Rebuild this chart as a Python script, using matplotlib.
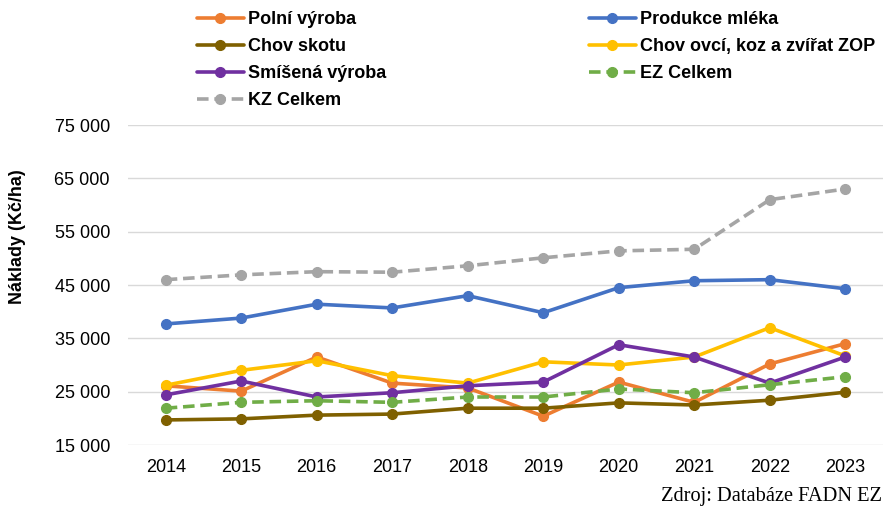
import numpy as np
import matplotlib
matplotlib.use('Agg')
import matplotlib.pyplot as plt

years = [2014, 2015, 2016, 2017, 2018, 2019, 2020, 2021, 2022, 2023]

polni    = [26100, 25100, 31500, 26600, 25700, 20400, 26800, 23000, 30200, 34000]
mleko    = [37700, 38800, 41400, 40700, 43000, 39800, 44500, 45800, 46000, 44300]
skot     = [19700, 19900, 20600, 20800, 21900, 21900, 22900, 22500, 23400, 24900]
ovce     = [26200, 29000, 30800, 28000, 26600, 30600, 30000, 31500, 37000, 31700]
smisena  = [24400, 27000, 24000, 24800, 26100, 26800, 33800, 31500, 26600, 31500]
ez       = [21900, 23000, 23300, 23000, 24000, 24000, 25500, 24800, 26300, 27800]
kz       = [46000, 46900, 47500, 47400, 48600, 50100, 51400, 51700, 61000, 63000]

labels = ["Polní výroba", "Produkce mléka", "Chov skotu", "Chov ovcí, koz a zvířat ZOP",
          "Smíšená výroba", "EZ Celkem", "KZ Celkem"]
colors = ["#ED7D31", "#4472C4", "#7F6000", "#FFC000", "#7030A0", "#70AD47", "#A5A5A5"]
series = [polni, mleko, skot, ovce, smisena, ez, kz]
dashed = [False, False, False, False, False, True, True]

yticks = [15000, 25000, 35000, 45000, 55000, 65000, 75000]

plt.rcParams['font.family'] = ['Liberation Sans', 'DejaVu Sans']

fig = plt.figure(figsize=(8.83, 5.19), dpi=100)
ax = fig.add_axes([128/883, 1-445/519, 1-128/883, (445-125)/519])

handles = []
for vals, lab, col, d in zip(series, labels, colors, dashed):
    ls = (0, (3.2, 1.6)) if d else '-'
    h, = ax.plot(years, vals, color=col, lw=2.6, ls=ls, marker='o', markersize=7,
                 label=lab, solid_capstyle='round', dash_capstyle='butt')
    handles.append(h)

ax.set_xlim(2013.5, 2023.5)
ax.set_ylim(15000, 75000)
ax.set_xticks(years)
ax.set_xticklabels([str(y) for y in years], fontsize=13)
ax.set_yticks(yticks)
ax.set_yticklabels(["{:,}".format(v).replace(",", " ") for v in yticks], fontsize=13)
ax.tick_params(length=0, pad=10)
ax.tick_params(axis='y', pad=13)
ax.grid(axis='y', color='#D9D9D9', lw=1)
ax.set_axisbelow(True)
for s in ax.spines.values():
    s.set_visible(False)

fig.text(18/883, 1-237/519, "Náklady (Kč/ha)", rotation=90, fontsize=13,
         fontweight='bold', ha='center', va='center')

# legend is row-major in the original -> reorder for column filling
order = [0, 2, 4, 6, 1, 3, 5]
leg = fig.legend([handles[i] for i in order], [labels[i] for i in order],
                 loc='upper left', bbox_to_anchor=(197/883, 1-11/519), ncol=2,
                 frameon=False, borderpad=0, borderaxespad=0,
                 handlelength=2.6, handletextpad=0.25, columnspacing=11.2,
                 labelspacing=0.56,
                 prop={'weight': 'bold', 'size': 13})

fig.text(882/883, 1-501/519, "Zdroj: Databáze FADN EZ", ha='right', va='baseline',
         fontsize=14.7, family=['Liberation Serif', 'DejaVu Serif'])

fig.savefig("out.png", dpi=100)
